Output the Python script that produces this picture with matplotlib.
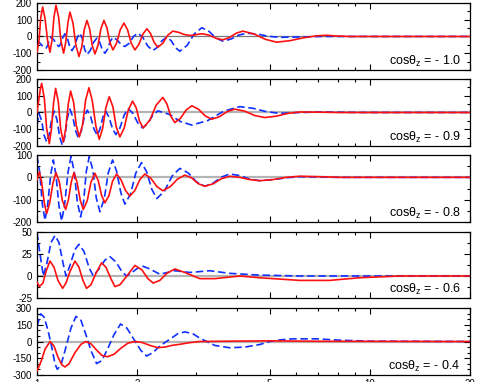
import matplotlib.pyplot as plt
from matplotlib.ticker import FixedLocator, MultipleLocator, NullFormatter
import numpy as np

plt.rcParams['font.family'] = ['Liberation Sans', 'DejaVu Sans']
plt.rcParams['mathtext.default'] = 'regular'
plt.rcParams['axes.unicode_minus'] = False

# x values are log10(E), curves: red solid / blue dashed, one pair per cos(theta_z)
labels = ['- 1.0', '- 0.9', '- 0.8', '- 0.6', '- 0.4']

# cos = -1.0
lx1_red = [0.000, 0.006, 0.011, 0.017, 0.024, 0.032, 0.039, 0.045, 0.051, 0.057, 0.065, 0.072, 0.080,
           0.086, 0.093, 0.099, 0.108, 0.117, 0.126, 0.134, 0.142, 0.150, 0.158, 0.166, 0.174, 0.183,
           0.192, 0.201, 0.210, 0.219, 0.228, 0.239, 0.250, 0.261, 0.272, 0.283, 0.294, 0.306, 0.318,
           0.330, 0.341, 0.352, 0.363, 0.378, 0.393, 0.408, 0.425, 0.442, 0.459, 0.472, 0.485, 0.498,
           0.518, 0.538, 0.558, 0.578, 0.598, 0.618, 0.652, 0.686, 0.720, 0.760, 0.800, 0.840, 0.870,
           0.900, 0.940, 1.301]
y1_red = [-94, -26, 108, 176, 108, -26, -94, -24, 116, 186, 114, -28, -100, -38, 84, 146, 80, -54, -120,
          -66, 42, 96, 46, -54, -104, -54, 46, 96, 52, -36, -80, -40, 40, 80, 40, -40, -80, -48, 14, 46,
          18, -36, -64, -40, 8, 32, 25, 12, 6, 8, 14, 16, 7, -11, -20, -7, 19, 32, 15, -17, -34, -25, -8,
          4, 7, 3, 0, 0]
lx1_blue = [0.000, 0.009, 0.018, 0.027, 0.032, 0.037, 0.042, 0.050, 0.058, 0.066, 0.072, 0.078, 0.084,
            0.091, 0.098, 0.105, 0.113, 0.121, 0.129, 0.136, 0.143, 0.150, 0.160, 0.170, 0.180, 0.188,
            0.196, 0.204, 0.212, 0.220, 0.228, 0.240, 0.252, 0.264, 0.277, 0.290, 0.303, 0.318, 0.333,
            0.348, 0.362, 0.376, 0.390, 0.403, 0.416, 0.429, 0.451, 0.473, 0.495, 0.516, 0.537, 0.558,
            0.582, 0.606, 0.630, 0.663, 0.696, 0.729, 0.789, 0.849, 1.301]
y1_blue = [-30, -40, -60, -70, -54, -20, -4, -18, -46, -60, -41, -3, 16, -9, -59, -84, -58, -6, 20, -12,
           -76, -108, -84, -34, -10, -32, -78, -100, -76, -29, -5, -19, -46, -60, -40, 0, 20, -6, -58,
           -84, -64, -24, -4, -25, -67, -88, -53, 17, 52, 32, -8, -28, -16, 8, 20, 14, 1, -5, -3, 0, 0]

# cos = -0.9
lx2_red = [0.000, 0.005, 0.010, 0.014, 0.022, 0.029, 0.037, 0.043, 0.050, 0.056, 0.064, 0.071, 0.079,
           0.086, 0.094, 0.101, 0.110, 0.118, 0.127, 0.137, 0.146, 0.156, 0.166, 0.177, 0.187, 0.197,
           0.207, 0.217, 0.228, 0.238, 0.249, 0.262, 0.274, 0.287, 0.298, 0.308, 0.319, 0.339, 0.358,
           0.378, 0.390, 0.402, 0.414, 0.431, 0.448, 0.465, 0.485, 0.505, 0.525, 0.548, 0.571, 0.594,
           0.624, 0.654, 0.684, 0.719, 0.754, 0.789, 0.849, 0.909, 1.301]
y2_red = [0, 70, 140, 174, 84, -96, -186, -104, 62, 144, 64, -96, -176, -100, 52, 128, 60, -78, -146,
          -72, 74, 148, 71, -83, -160, -96, 30, 94, 34, -86, -146, -92, 14, 68, 28, -52, -92, -46, 44,
          90, 52, -22, -60, -35, 15, 40, 20, -20, -40, -25, 5, 20, 8, -18, -30, -22, -5, 3, 2, 0, 0]
lx2_blue = [0.000, 0.003, 0.006, 0.014, 0.021, 0.029, 0.037, 0.044, 0.052, 0.060, 0.068, 0.076, 0.084,
            0.091, 0.099, 0.107, 0.116, 0.124, 0.133, 0.142, 0.151, 0.161, 0.171, 0.181, 0.189, 0.198,
            0.206, 0.216, 0.227, 0.237, 0.249, 0.262, 0.274, 0.288, 0.303, 0.317, 0.332, 0.348, 0.363,
            0.397, 0.431, 0.465, 0.513, 0.561, 0.609, 0.649, 0.689, 0.729, 0.789, 0.849, 0.969, 1.301]
y2_blue = [-76, -40, -6, -48, -134, -176, -130, -38, 8, -43, -145, -196, -142, -34, 20, -23, -109, -152,
           -110, -28, 14, -24, -98, -136, -100, -28, 8, -27, -97, -132, -93, -15, 24, -5, -63, -92, -66,
           -16, 10, -11, -54, -75, -48, 8, 35, 25, 5, -5, 0, 3, 0, 0]

# cos = -0.8
lx3_red = [0.000, 0.004, 0.007, 0.014, 0.022, 0.029, 0.038, 0.048, 0.057, 0.067, 0.076, 0.086, 0.094,
           0.103, 0.111, 0.120, 0.130, 0.139, 0.151, 0.162, 0.174, 0.184, 0.194, 0.204, 0.216, 0.227,
           0.239, 0.252, 0.266, 0.279, 0.294, 0.309, 0.324, 0.342, 0.360, 0.378, 0.400, 0.422, 0.444,
           0.464, 0.484, 0.504, 0.529, 0.554, 0.579, 0.609, 0.639, 0.669, 0.709, 0.749, 0.789, 0.849,
           0.909, 1.301]
y3_red = [-12, 12, 25, -22, -115, -162, -116, -25, 21, -20, -103, -144, -103, -20, 21, -20, -103, -144,
          -104, -22, 18, -15, -81, -114, -82, -17, 15, -10, -59, -84, -59, -10, 15, -4, -41, -60, -42, -8,
          10, -2, -28, -40, -29, -6, 5, 0, -10, -15, -10, 0, 5, 3, 0, 0]
lx3_blue = [0.000, 0.008, 0.016, 0.024, 0.032, 0.041, 0.049, 0.057, 0.066, 0.074, 0.083, 0.093, 0.102,
            0.112, 0.121, 0.131, 0.140, 0.148, 0.157, 0.168, 0.178, 0.189, 0.202, 0.214, 0.227, 0.239,
            0.252, 0.264, 0.281, 0.297, 0.314, 0.329, 0.345, 0.360, 0.383, 0.406, 0.429, 0.454, 0.479,
            0.504, 0.529, 0.554, 0.579, 0.609, 0.639, 0.669, 0.709, 0.749, 0.789, 0.909, 1.301]
y3_blue = [96, 24, -120, -192, -124, 10, 78, 10, -127, -195, -123, 21, 93, 26, -110, -177, -110, 26, 93,
           31, -92, -154, -96, 20, 78, 28, -70, -120, -74, 20, 66, 26, -54, -95, -61, 6, 40, 20, -20, -40,
           -26, 1, 15, 8, -8, -15, -10, -2, 3, 0, 0]

# cos = -0.6
lx4_red = [0.000, 0.007, 0.018, 0.027, 0.039, 0.051, 0.063, 0.077, 0.087, 0.099, 0.114, 0.126, 0.138,
           0.149, 0.162, 0.177, 0.194, 0.207, 0.222, 0.234, 0.249, 0.270, 0.294, 0.315, 0.333, 0.349,
           0.369, 0.390, 0.414, 0.444, 0.489, 0.534, 0.609, 0.669, 0.789, 0.879, 0.969, 1.089, 1.301]
y4_red = [-7, -12, -8, 5, 17, 10, -5, -14, -8, 5, 17, 10, -5, -14, -10, 3, 15, 10, -3, -12, -10, 0, 12,
          7, -3, -8, -5, 3, 8, 4, -3, -3, 0, -2, -5, -5, -2, 0, 0]
lx4_blue = [0.000, 0.009, 0.019, 0.030, 0.042, 0.054, 0.066, 0.078, 0.087, 0.099, 0.114, 0.126, 0.141,
            0.156, 0.169, 0.186, 0.204, 0.219, 0.237, 0.255, 0.269, 0.285, 0.303, 0.319, 0.339, 0.369,
            0.414, 0.459, 0.519, 0.579, 0.669, 0.789, 1.301]
y4_blue = [49, 25, 0, 15, 38, 46, 38, 15, 0, 12, 30, 36, 28, 10, 0, 8, 18, 22, 16, 5, 0, 4, 9, 11, 8, 2,
           6, 4, 6, 3, 1, 0, 0]

# cos = -0.4
lx5_red = [0.000, 0.012, 0.024, 0.039, 0.051, 0.063, 0.075, 0.084, 0.096, 0.114, 0.132, 0.147, 0.162,
           0.180, 0.195, 0.212, 0.231, 0.252, 0.273, 0.294, 0.315, 0.339, 0.363, 0.384, 0.405, 0.429,
           0.459, 0.489, 0.579, 0.699, 0.849, 1.301]
y5_red = [-264, -180, -70, 0, -40, -140, -210, -228, -200, -100, -25, 0, -20, -80, -125, -136, -115, -60,
          -15, 0, -8, -35, -55, -50, -35, -25, -10, 0, 3, 6, 2, 0]
lx5_blue = [0.000, 0.011, 0.021, 0.033, 0.045, 0.054, 0.061, 0.072, 0.087, 0.102, 0.117, 0.132, 0.147,
            0.162, 0.179, 0.195, 0.213, 0.231, 0.251, 0.270, 0.291, 0.312, 0.329, 0.348, 0.369, 0.399,
            0.423, 0.444, 0.468, 0.489, 0.510, 0.534, 0.579, 0.624, 0.669, 0.699, 0.732, 0.768, 0.840,
            0.909, 0.999, 1.301]
y5_blue = [136, 248, 220, 100, -60, -200, -249, -210, -50, 120, 225, 190, 60, -80, -198, -170, -60, 60,
           157, 120, 20, -80, -130, -100, -40, 20, 70, 86, 70, 30, 0, -35, -56, -50, -27, 0, 15, 24, 24,
           12, 3, 0]

reds = [(lx1_red, y1_red), (lx2_red, y2_red), (lx3_red, y3_red), (lx4_red, y4_red), (lx5_red, y5_red)]
blues = [(lx1_blue, y1_blue), (lx2_blue, y2_blue), (lx3_blue, y3_blue), (lx4_blue, y4_blue),
         (lx5_blue, y5_blue)]
ylims = [(-200, 200), (-200, 200), (-200, 100), (-25, 50), (-300, 300)]
yticks = [[-200, -100, 0, 100, 200], [-200, -100, 0, 100, 200], [-200, -100, 0, 100],
          [-25, 0, 25, 50], [-300, -150, 0, 150, 300]]
yminor = [50, 50, 50, 12.5, 50]

fig = plt.figure(figsize=(4.85, 3.82), dpi=100)
# panel frames in figure fractions (bottom, height)
boxes = [(0.8168, 0.1754), (0.6178, 0.1754), (0.4188, 0.1754), (0.2199, 0.1728), (0.0183, 0.1754)]

for i in range(5):
    ax = fig.add_axes([0.0763, boxes[i][0], 0.893, boxes[i][1]])
    ax.set_xscale('log')
    if i == 0:
        ax.axhline(0, color='#7a7a7a', lw=0.9, zorder=1)
    else:
        ax.axhline(0, color='#b4b4b4', lw=1.6, zorder=1)
    lx, y = reds[i]
    ax.plot(10 ** np.array(lx), y, color='#ff1010', lw=1.2, zorder=3)
    lx, y = blues[i]
    ax.plot(10 ** np.array(lx), y, color='#1030ff', lw=1.2, ls=(0, (4.5, 2.2)), zorder=2)
    ax.set_xlim(1, 20)
    ax.set_ylim(*ylims[i])
    ax.set_yticks(yticks[i])
    ax.yaxis.set_minor_locator(MultipleLocator(yminor[i]))
    ax.xaxis.set_major_locator(FixedLocator([1, 2, 5, 10, 20]))
    ax.xaxis.set_minor_locator(FixedLocator([3, 4, 6, 7, 8, 9]))
    ax.xaxis.set_minor_formatter(NullFormatter())
    ax.tick_params(which='both', direction='in', top=True, right=True, labelsize=7, width=0.8)
    ax.tick_params(which='major', length=4)
    ax.tick_params(which='minor', length=2)
    if i < 4:
        ax.set_xticklabels([])
    else:
        ax.set_xticklabels(['1', '2', '5', '10', '20'])
        ax.tick_params(axis='x', pad=3)
    for s in ax.spines.values():
        s.set_linewidth(0.9)
    ax.text(0.978, 0.07, 'cosθ$_z$ = ' + labels[i], transform=ax.transAxes, ha='right',
            va='baseline', fontsize=9)

fig.savefig('out.png', dpi=100)
